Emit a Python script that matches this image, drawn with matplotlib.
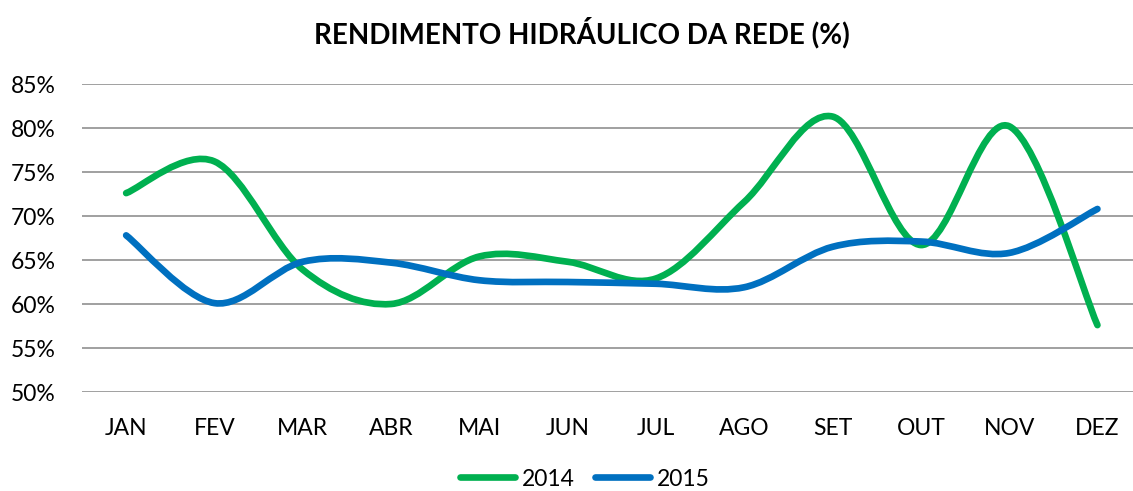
import numpy as np
import matplotlib
matplotlib.use("Agg")
import matplotlib.pyplot as plt
from matplotlib.path import Path
from matplotlib.patches import PathPatch
from matplotlib.lines import Line2D

plt.rcParams["font.family"] = ["Lato", "DejaVu Sans"]

# Dados (%)
meses = ["JAN", "FEV", "MAR", "ABR", "MAI", "JUN",
         "JUL", "AGO", "SET", "OUT", "NOV", "DEZ"]
valores_2014 = [72.6, 76.2, 63.9, 60.0, 65.4, 64.8, 62.9, 71.6, 81.3, 66.7, 80.2, 57.6]
valores_2015 = [67.8, 60.1, 64.8, 64.7, 62.7, 62.5, 62.3, 61.9, 66.5, 67.1, 65.8, 70.8]

verde = "#00B050"
azul = "#0070C0"


def curva_suave(x, y):
    # linha suavizada (estilo Excel): Bezier cúbica com pontos de controle Catmull-Rom
    pts = np.column_stack([x, y]).astype(float)
    ext = np.vstack([pts[0], pts, pts[-1]])
    verts = [pts[0]]
    codes = [Path.MOVETO]
    for i in range(len(pts) - 1):
        p0, p1, p2, p3 = ext[i], ext[i + 1], ext[i + 2], ext[i + 3]
        verts += [p1 + (p2 - p0) / 6, p2 - (p3 - p1) / 6, p2]
        codes += [Path.CURVE4] * 3
    return Path(verts, codes)


fig = plt.figure(figsize=(11.33, 4.91), dpi=100)
W, H = 1133, 491
ax = fig.add_axes([82 / W, 1 - 392 / H, (W - 82) / W, (392 - 84) / H])

x = np.arange(len(meses))
for vals, cor in [(valores_2014, verde), (valores_2015, azul)]:
    ax.add_patch(PathPatch(curva_suave(x, vals), fill=False, edgecolor=cor,
                           lw=4.8, capstyle="round", joinstyle="round", zorder=3))

ax.set_xlim(-0.5, -0.5 + (W - 82) / 88.3)
ax.set_ylim(50, 85)
ax.set_yticks(range(50, 90, 5))
ax.set_yticklabels([f"{v}%" for v in range(50, 90, 5)])
ax.set_xticks(x)
ax.set_xticklabels(meses)
ax.tick_params(axis="both", length=0, labelsize=16.5, colors="black")
ax.tick_params(axis="x", pad=19)
ax.tick_params(axis="y", pad=19)
ax.grid(axis="y", color="#868686", lw=1.1)
ax.set_axisbelow(True)
for s in ax.spines.values():
    s.set_visible(False)

fig.text(582 / W, 1 - 33 / H, "RENDIMENTO HIDRÁULICO DA REDE (%)",
         ha="center", va="center", fontsize=20, fontweight="bold")

handles = [Line2D([], [], color=verde, lw=4.8, solid_capstyle="round"),
           Line2D([], [], color=azul, lw=4.8, solid_capstyle="round")]
fig.legend(handles, ["2014", "2015"], loc="center", ncol=2, frameon=False,
           bbox_to_anchor=(585 / W, 1 - 479 / H), fontsize=16.5,
           handlelength=2.4, handletextpad=0.3, columnspacing=0.9,
           borderpad=0.1)

fig.savefig("out.png", dpi=100)
